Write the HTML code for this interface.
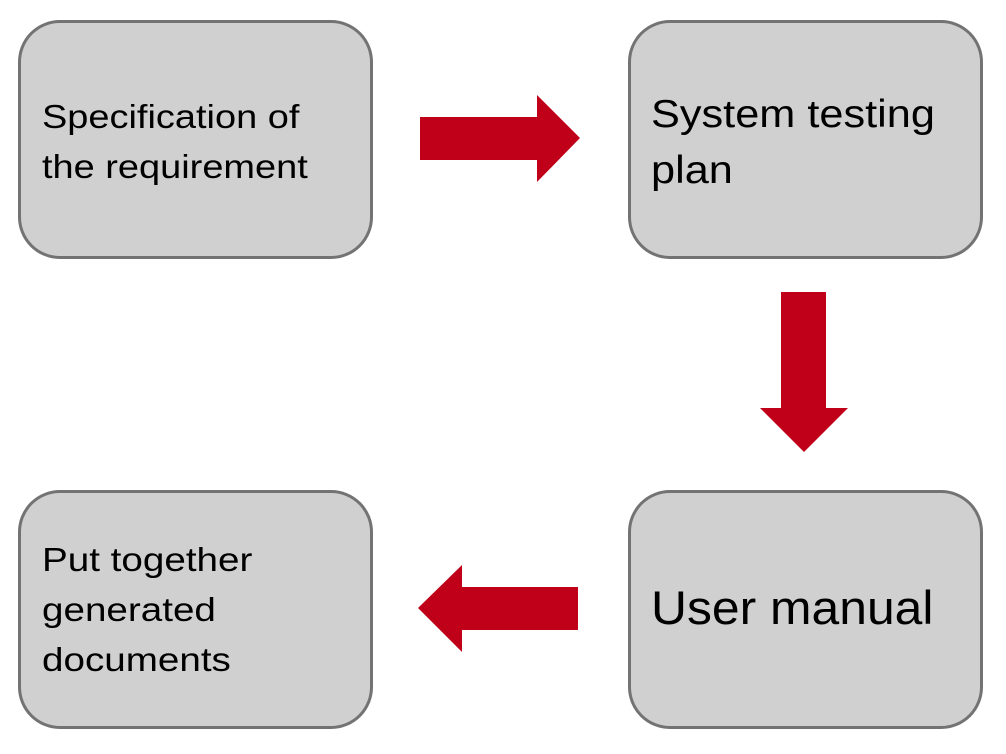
<!DOCTYPE html>
<html><head><style>
html,body{margin:0;padding:0;background:#fff;width:1006px;height:754px;overflow:hidden;position:relative;font-family:"Liberation Sans",sans-serif;}
.b{position:absolute;width:355px;height:239px;box-sizing:border-box;border:3px solid #737373;border-radius:42px;background:#d0d0d0;}
.t{position:absolute;color:#000;white-space:nowrap;transform-origin:0 0;}
</style></head><body>
<div class="b" style="left:18px;top:20px"></div>
<div class="b" style="left:628px;top:20px"></div>
<div class="b" style="left:18px;top:490px"></div>
<div class="b" style="left:628px;top:490px"></div>
<div class="t" style="left:42px;top:92px;font-size:33px;line-height:50px;transform:scaleX(1.15)">Specification of<br>the requirement</div>
<div class="t" style="left:651px;top:87px;font-size:39px;line-height:56px;transform:scaleX(1.11)">System testing<br>plan</div>
<div class="t" style="left:42px;top:535px;font-size:33px;line-height:50px;transform:scaleX(1.17)">Put together<br>generated<br>documents</div>
<div class="t" style="left:651px;top:578px;font-size:47px;line-height:60px;transform:scaleX(1.06)">User manual</div>
<svg width="1006" height="754" style="position:absolute;left:0;top:0">
<polygon fill="#c00018" points="420,117 537,117 537,95 580,138 537,182 537,160 420,160"/>
<polygon fill="#c00018" points="781,292 826,292 826,408 848,408 804,452 760,408 781,408"/>
<polygon fill="#c00018" points="578,587 462,587 462,565 418,608 462,652 462,630 578,630"/>
</svg>
</body></html>
